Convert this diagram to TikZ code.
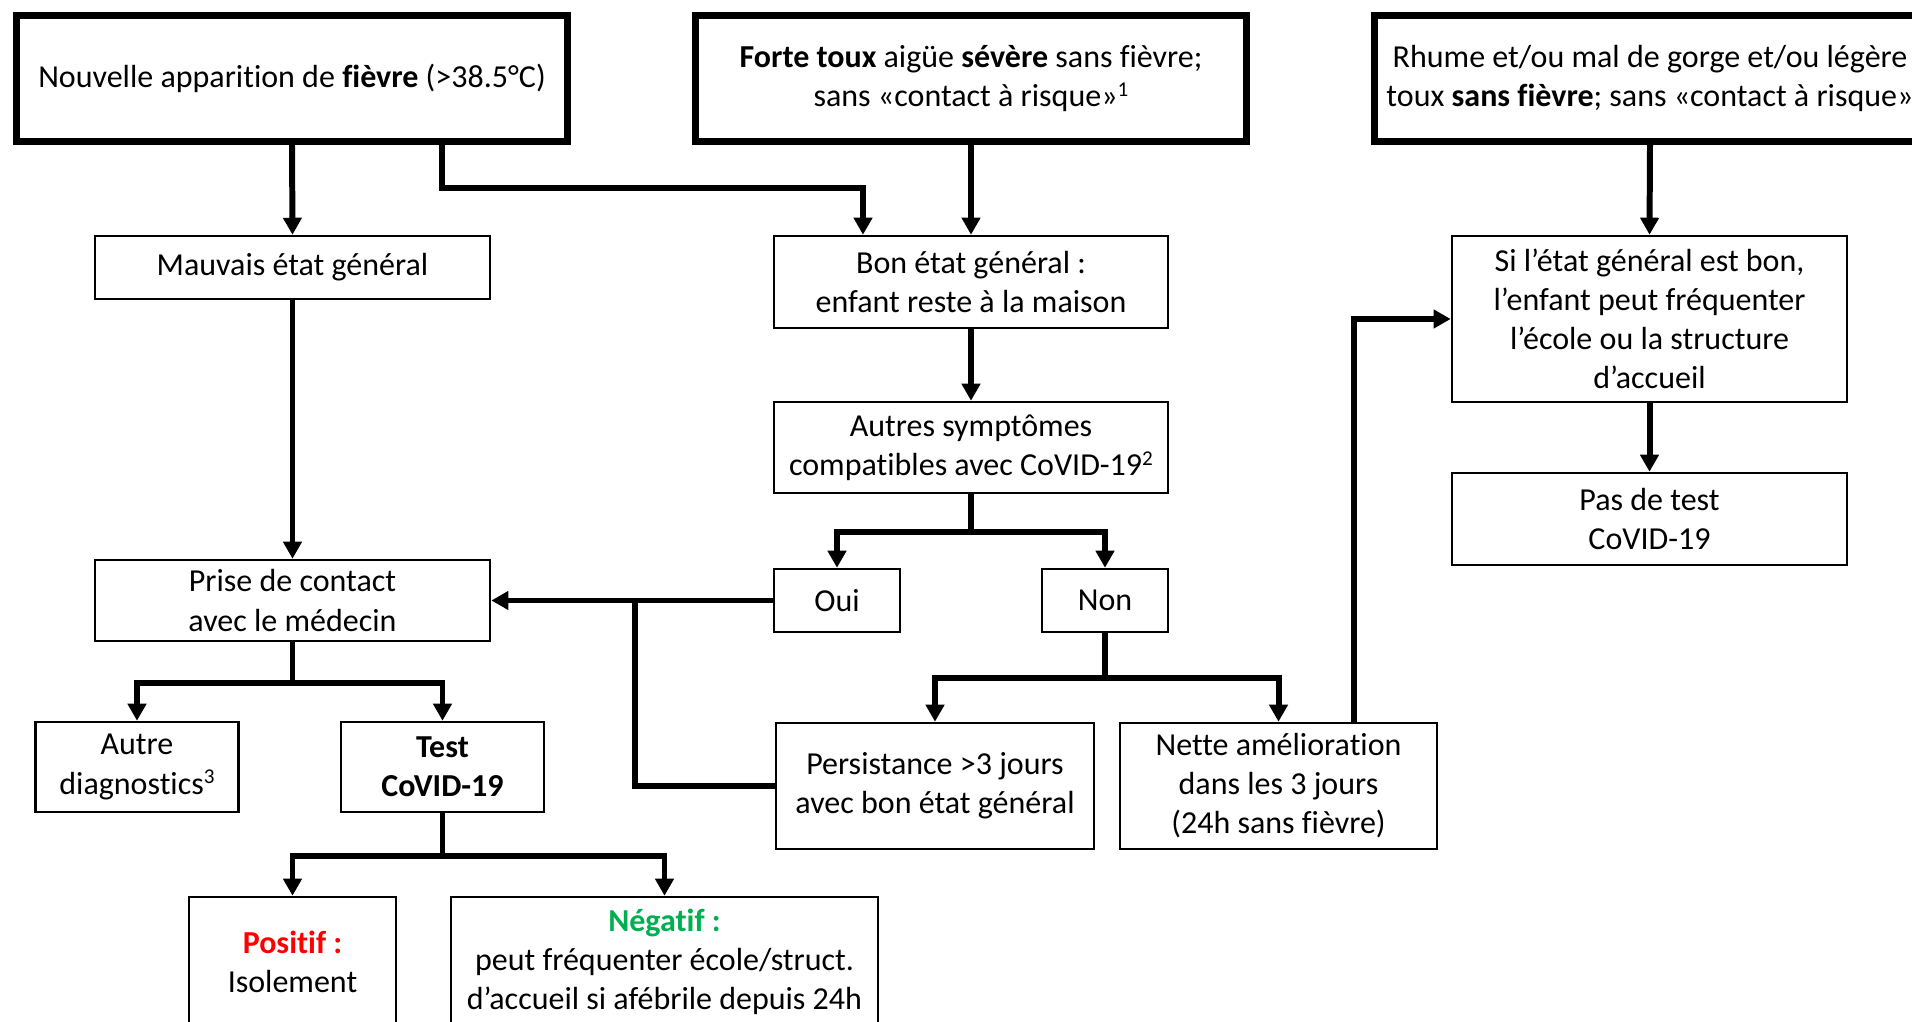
\documentclass[tikz,border=0pt]{standalone}
\usepackage{fontspec}
\setmainfont{Carlito}[Ligatures={NoCommon},RawFeature={-liga;-dlig;-clig}]
\usepackage{xcolor}
\usetikzlibrary{arrows.meta}
\definecolor{posred}{HTML}{FF0000}
\definecolor{neggreen}{HTML}{00B050}
\newcommand\supnum[1]{\raisebox{0.32em}{\fontsize{6pt}{6pt}\selectfont #1}}

\begin{document}
\begin{tikzpicture}[x=0.01cm,y=-0.01cm,
    txt/.style={align=center,inner sep=0pt,font=\fontsize{9.1pt}{11.1pt}\selectfont},
    box/.style={txt,draw,line width=0.7pt},
    bigbox/.style={txt,draw,line width=2pt,minimum width=5.51cm,minimum height=1.26cm},
    link/.style={line width=1.7pt},
    arr/.style={link,-{Triangle[width=0.18cm,length=0.17cm]}}]
    \useasboundingbox (0,0) rectangle (1912,1022);
    \clip (0,0) rectangle (1912,1022);

    % top row
    \node[bigbox] (fievre) at (292,78.5) {Nouvelle apparition de \textbf{fièvre} (>38.5°C)};
    \node[bigbox] (toux) at (971,78.5) {\textbf{Forte toux} aigüe \textbf{sévère} sans fièvre;\\ sans «contact à risque»\supnum{1}};
    \node[bigbox] (rhume) at (1650,78.5) {Rhume et/ou mal de gorge et/ou légère\\ toux \textbf{sans fièvre}; sans «contact à risque»};

    % boxes
    \node[box,minimum width=3.95cm,minimum height=0.63cm] (mauvais) at (292.5,267.5) {Mauvais état général};
    \node[box,minimum width=3.94cm,minimum height=0.92cm] (bon) at (971,282) {Bon état général :\\ enfant reste à la maison};
    \node[box,minimum width=3.95cm,minimum height=1.66cm] (sibon) at (1649.5,319) {Si l’état général est bon,\\ l’enfant peut fréquenter\\ l’école ou la structure\\ d’accueil};
    \node[box,minimum width=3.94cm,minimum height=0.91cm] (autres) at (971,447.5) {Autres symptômes\\ compatibles avec CoVID-19\supnum{2}};
    \node[box,minimum width=3.95cm,minimum height=0.92cm] (pastest) at (1649.5,519) {Pas de test\\ CoVID-19};
    \node[box,minimum width=1.26cm,minimum height=0.63cm] (oui) at (837,600.5) {Oui};
    \node[box,minimum width=1.26cm,minimum height=0.63cm] (non) at (1105,600.5) {Non};
    \node[box,minimum width=3.95cm,minimum height=0.81cm] (prise) at (292.5,600.5) {Prise de contact\\ avec le médecin};
    \node[box,minimum width=2.03cm,minimum height=0.9cm] (autre) at (137,767) {Autre\\ diagnostics\supnum{3}};
    \node[box,minimum width=2.03cm,minimum height=0.9cm] (test) at (442.5,767) {\textbf{Test}\\ \textbf{CoVID-19}};
    \node[box,minimum width=3.18cm,minimum height=1.26cm] (persist) at (935,786) {Persistance >3 jours\\ avec bon état général};
    \node[box,minimum width=3.17cm,minimum height=1.26cm] (nette) at (1278.5,786) {Nette amélioration\\ dans les 3 jours\\ (24h sans fièvre)};
    \node[box,minimum width=2.07cm,minimum height=1.3cm] (positif) at (292.5,962) {\textcolor{posred}{\textbf{Positif :}}\\ Isolement};
    \node[box,minimum width=4.27cm,minimum height=1.3cm] (negatif) at (664.5,962) {\textcolor{neggreen}{\textbf{Négatif :}}\\ peut fréquenter école/struct.\\ d’accueil si afébrile depuis 24h};

    % bends
    \coordinate (k1) at (442,188);
    \coordinate (k2) at (863,188);
    \coordinate (k3) at (635,600.5);
    \coordinate (k4) at (1354,321);

    % connectors
    \draw[arr] (fievre.south) -- (mauvais.north);
    \draw[arr] (fievre.south -| k1) -- (k1) -- (k2) -- (bon.north -| k2);
    \draw[arr] (toux.south) -- (bon.north);
    \draw[arr] (rhume.south) -- (sibon.north);
    \draw[arr] (mauvais.south) -- (prise.north);
    \draw[arr] (bon.south) -- (autres.north);
    \draw[arr] (autres.south) -- ++(0,38) -| (oui.north);
    \draw[arr] (autres.south) -- ++(0,38) -| (non.north);
    \draw[arr] (oui.west) -- (prise.east);
    \draw[link] (persist.west) -| (k3);
    \draw[arr] (non.south) -- ++(0,45) -| (persist.north);
    \draw[arr] (non.south) -- ++(0,45) -| (nette.north);
    \draw[arr] (nette.north -| k4) |- (sibon.west);
    \draw[arr] (sibon.south) -- (pastest.north);
    \draw[arr] (prise.south) -- ++(0,41) -| (autre.north);
    \draw[arr] (prise.south) -- ++(0,41) -| (test.north);
    \draw[arr] (test.south) -- ++(0,43) -| (positif.north);
    \draw[arr] (test.south) -- ++(0,43) -| (negatif.north);
\end{tikzpicture}
\end{document}
